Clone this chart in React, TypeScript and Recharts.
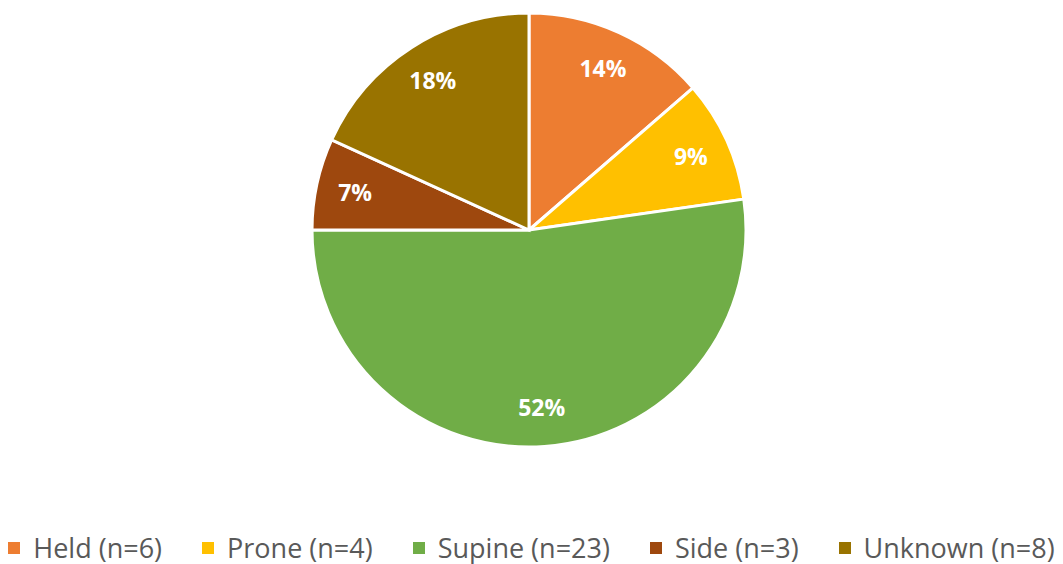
import { Cell, Legend, Pie, PieChart } from "recharts";

const categories = ["Held (n=6)", "Prone (n=4)", "Supine (n=23)", "Side (n=3)", "Unknown (n=8)"];
const counts = [6, 4, 23, 3, 8];
const percentLabels = ["14%", "9%", "52%", "7%", "18%"];
const sliceColors = ["#ED7D31", "#FFC000", "#70AD47", "#9E480E", "#997300"];

const data = categories.map((name, i) => ({ name, value: counts[i], label: percentLabels[i] }));

const RADIAN = Math.PI / 180;

const renderLabel = (props: any) => {
  const { cx, cy, midAngle, outerRadius, index } = props;
  const r = outerRadius * 0.82;
  const x = cx + r * Math.cos(-midAngle * RADIAN);
  const y = cy + r * Math.sin(-midAngle * RADIAN);
  return (
    <text
      x={x}
      y={y}
      fill="#FFFFFF"
      textAnchor="middle"
      dominantBaseline="central"
      fontFamily="Open Sans"
      fontWeight={700}
      fontSize={23}
    >
      {percentLabels[index]}
    </text>
  );
};

const renderLegend = () => (
  <div
    style={{
      display: "flex",
      justifyContent: "center",
      gap: 40,
      fontFamily: "Open Sans",
      fontSize: 27,
      color: "#595959",
      lineHeight: "36px",
    }}
  >
    {categories.map((c, i) => (
      <div key={c} style={{ display: "flex", alignItems: "center" }}>
        <span
          style={{
            display: "inline-block",
            width: 12,
            height: 12,
            background: sliceColors[i],
            marginRight: 13,
          }}
        />
        <span>{c}</span>
      </div>
    ))}
  </div>
);

export default function App() {
  return (
    <div style={{ position: "absolute", left: 0, top: 0, background: "#fff" }}>
      <PieChart width={1063} height={564} margin={{ top: 0, right: 0, bottom: 0, left: 0 }}>
        <Pie
          data={data}
          dataKey="value"
          nameKey="name"
          cx={529}
          cy={230}
          outerRadius={217}
          startAngle={90}
          endAngle={-270}
          stroke="#FFFFFF"
          strokeWidth={3}
          label={renderLabel}
          labelLine={false}
          isAnimationActive={false}
        >
          {data.map((d, i) => (
            <Cell key={d.name} fill={sliceColors[i]} />
          ))}
        </Pie>
        <Legend
          verticalAlign="bottom"
          align="center"
          content={renderLegend}
          wrapperStyle={{ bottom: -2, left: 0, width: 1063 }}
        />
      </PieChart>
    </div>
  );
}
